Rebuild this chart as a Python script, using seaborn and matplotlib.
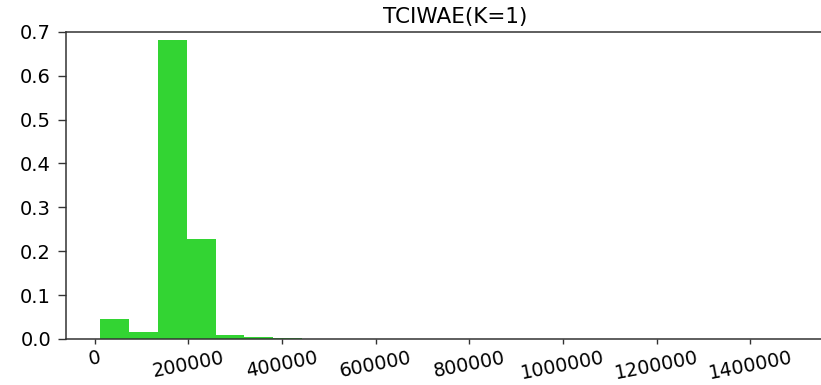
import numpy as np
import pandas as pd
import matplotlib
matplotlib.use("Agg")
import matplotlib.pyplot as plt
import seaborn as sns

# Histogram of TCIWAE (K=1) values: fraction of samples per bin
title = "TCIWAE(K=1)"
bin_start = 11800.0
bin_width = 61600.0
bin_probability = [0.046, 0.017, 0.682, 0.228, 0.009, 0.005, 0.003]
x_ticks = [0, 200000, 400000, 600000, 800000, 1000000, 1200000, 1400000]
y_ticks = [0.0, 0.1, 0.2, 0.3, 0.4, 0.5, 0.6, 0.7]

sns.set_theme(style="white")
plt.rcParams["font.family"] = ["DejaVu Sans"]

edges = bin_start + bin_width * np.arange(len(bin_probability) + 1)
centers = (edges[:-1] + edges[1:]) / 2
df = pd.DataFrame({"value": centers, "prob": bin_probability})

fig = plt.figure(figsize=(8.21, 3.85), dpi=100)
ax = fig.add_axes([66 / 821, 46 / 385, 778 / 821, 307.3 / 385])

sns.histplot(data=df, x="value", weights="prob", bins=list(edges),
             stat="count", color="#33d433", alpha=1.0, linewidth=0, ax=ax)

ax.set_xlim(-61000, 1600000)
ax.set_ylim(0, 0.7)
ax.set_xticks(x_ticks)
ax.set_xticklabels([str(t) for t in x_ticks], rotation=11)
ax.set_yticks(y_ticks)
ax.set_yticklabels([f"{t:.1f}" for t in y_ticks])
ax.set_xlabel("")
ax.set_ylabel("")
ax.set_title(title, fontsize=15.5, color="black", pad=6)

for side in ["left", "bottom", "top", "right"]:
    ax.spines[side].set_color("#333333")
    ax.spines[side].set_linewidth(1.1)
ax.tick_params(axis="x", which="major", length=3.6, width=1.0,
               color="#333333", labelsize=13.8, labelcolor="black",
               bottom=True, pad=3)
ax.tick_params(axis="y", which="major", length=5.8, width=1.0,
               color="#333333", labelsize=14, labelcolor="black",
               left=True, pad=5)

fig.savefig("out.png", dpi=100)
